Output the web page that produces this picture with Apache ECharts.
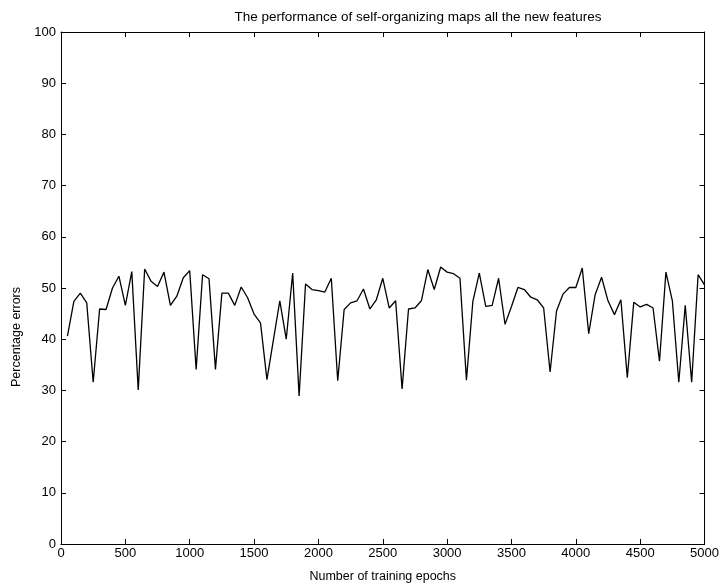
<!DOCTYPE html>
<html>
<head>
<meta charset="utf-8">
<script src="https://cdn.jsdelivr.net/npm/echarts@6/dist/echarts.min.js"></script>
<style>html,body{margin:0;padding:0;background:#fff}#c{width:722px;height:588px}</style>
</head>
<body>
<div id="c"></div>
<script>
const epochs = [];
for (let e = 50; e <= 5000; e += 50) epochs.push(e);
const errors = [
  40.6, 47.4, 49.0, 47.1, 31.6, 45.9, 45.8, 50.0, 52.3, 46.6,
  53.2, 30.1, 53.7, 51.3, 50.3, 53.1, 46.6, 48.4, 52.0, 53.4,
  34.1, 52.6, 51.8, 34.1, 49.0, 49.0, 46.6, 50.2, 48.1, 44.9,
  43.2, 32.1, 39.8, 47.5, 40.0, 52.9, 28.9, 50.8, 49.7, 49.5,
  49.2, 51.9, 31.9, 45.8, 47.1, 47.5, 49.8, 45.9, 47.7, 51.9,
  46.1, 47.5, 30.3, 45.9, 46.1, 47.5, 53.6, 49.7, 54.1, 53.1,
  52.8, 51.9, 32.0, 47.4, 52.9, 46.4, 46.6, 51.9, 42.9, 46.4,
  50.1, 49.7, 48.2, 47.7, 46.1, 33.6, 45.5, 48.8, 50.1, 50.1,
  53.9, 41.1, 48.7, 52.1, 47.5, 44.8, 47.7, 32.5, 47.2, 46.3,
  46.8, 46.1, 35.7, 53.1, 47.5, 31.6, 46.6, 31.6, 52.6, 50.6
];
const titleText = 'The performance of self-organizing maps all the new features';
const xName = 'Number of training epochs';
const yName = 'Percentage errors';

const font = 'Liberation Sans, Arial, Helvetica, sans-serif';
const chart = echarts.init(document.getElementById('c'));
const axisCommon = {
  axisLine: {show: true, onZero: false, lineStyle: {color: '#000', width: 1}},
  axisTick: {show: true, inside: true, length: 5, lineStyle: {color: '#000', width: 1}},
  splitLine: {show: false}
};
chart.setOption({
  animation: false,
  backgroundColor: '#fff',
  title: {
    text: titleText, left: 413, top: 5, textAlign: 'center',
    textStyle: {fontFamily: font, fontSize: 13.5, fontWeight: 'normal', color: '#000'}
  },
  graphic: [{
    type: 'text', x: 17, y: 337, rotation: Math.PI / 2,
    style: {text: yName, fontFamily: font, fontSize: 12.5, fill: '#000',
            textAlign: 'center', textVerticalAlign: 'middle'}
  }],
  grid: {left: 61, right: 14, top: 32, bottom: 42, containLabel: false},
  xAxis: [
    Object.assign({
      type: 'value', min: 0, max: 5000, interval: 500, position: 'bottom',
      name: xName, nameLocation: 'middle', nameGap: 26,
      nameTextStyle: {fontFamily: font, fontSize: 12.5, color: '#000'},
      axisLabel: {fontFamily: font, fontSize: 13, color: '#000', margin: 3,
                  formatter: v => String(v)}
    }, axisCommon),
    Object.assign({
      type: 'value', min: 0, max: 5000, interval: 500, position: 'top',
      axisLabel: {show: false}
    }, axisCommon)
  ],
  yAxis: [
    Object.assign({
      type: 'value', min: 0, max: 100, interval: 10, position: 'left',
      axisLabel: {fontFamily: font, fontSize: 13, color: '#000', margin: 5,
                  formatter: v => String(v)}
    }, axisCommon),
    Object.assign({
      type: 'value', min: 0, max: 100, interval: 10, position: 'right',
      axisLabel: {show: false}
    }, axisCommon)
  ],
  series: [{
    type: 'line',
    data: epochs.map((e, i) => [e, errors[i]]),
    showSymbol: false,
    symbol: 'none',
    lineStyle: {color: '#000', width: 1.3},
    xAxisIndex: 0, yAxisIndex: 0
  }]
});
</script>
</body>
</html>
